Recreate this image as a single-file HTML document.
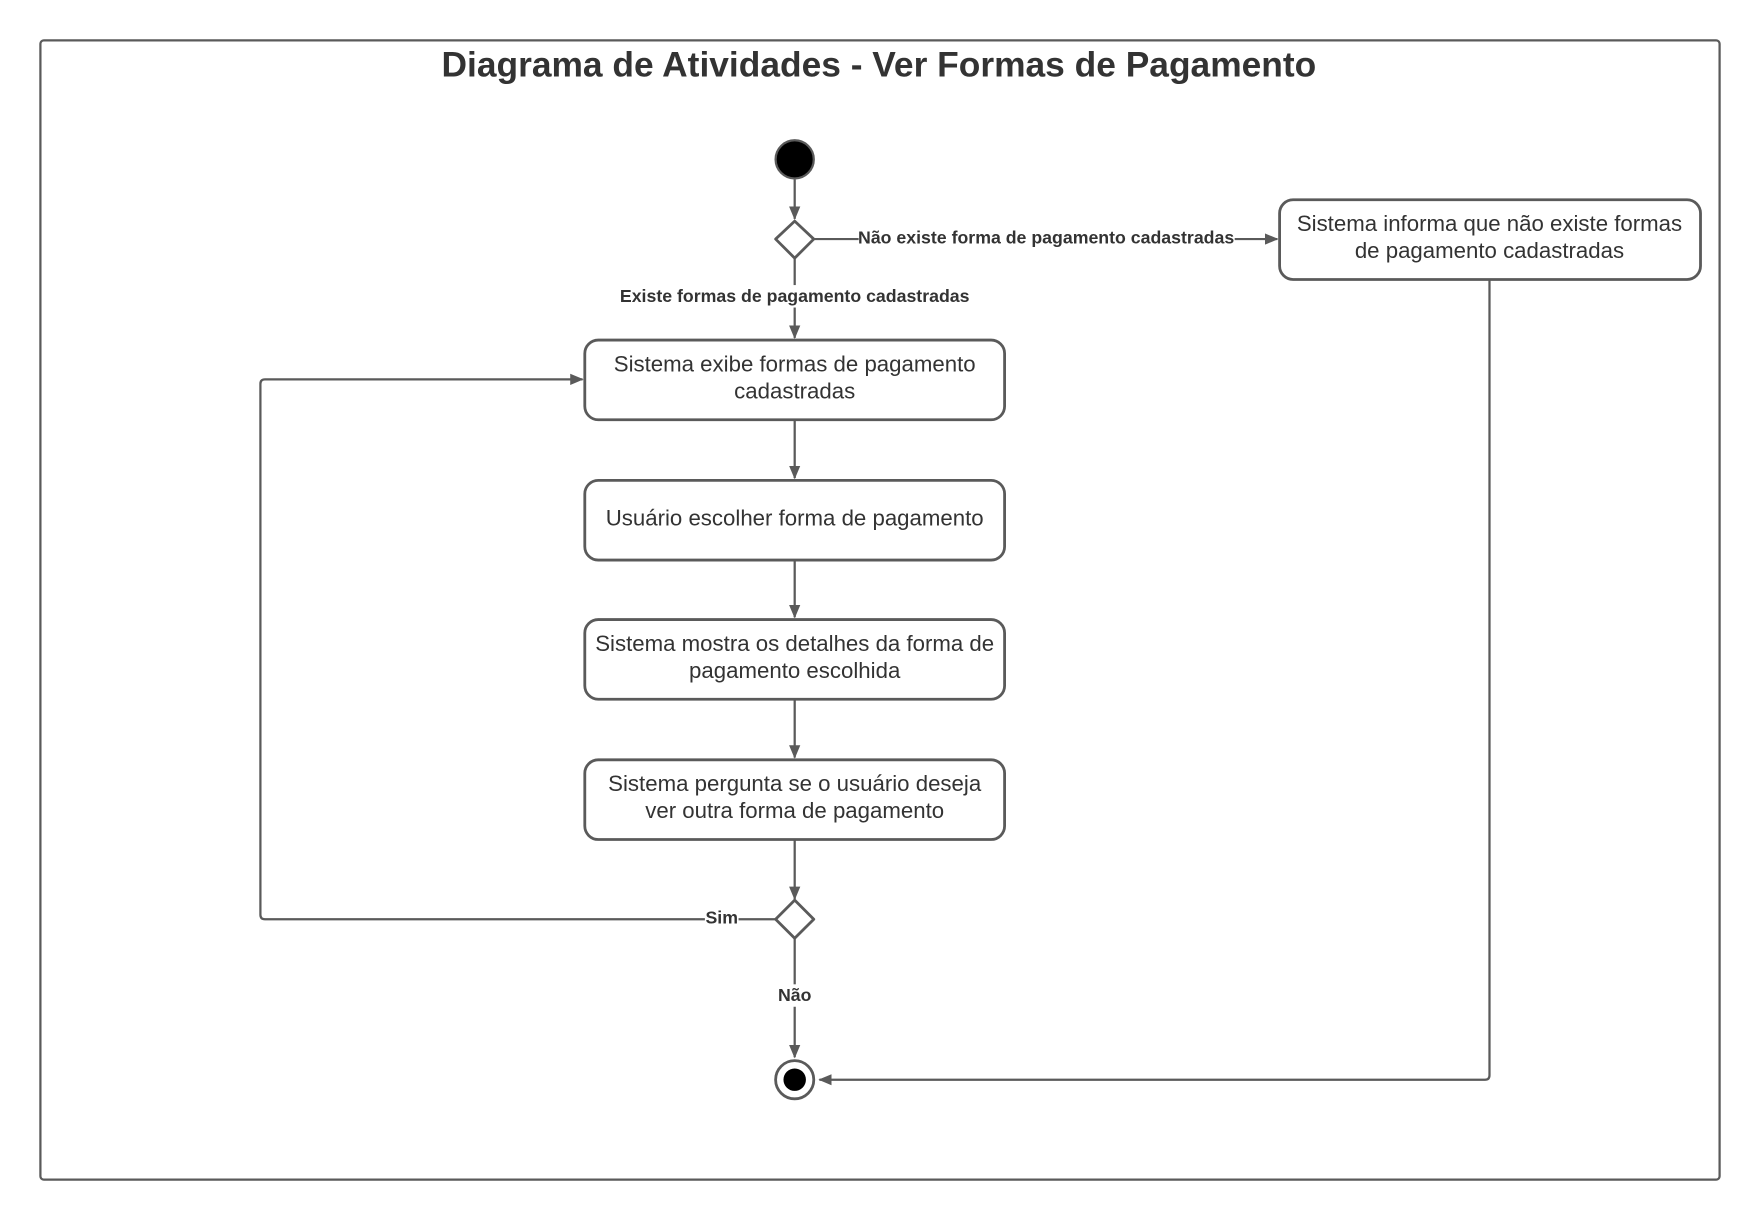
<!DOCTYPE html>
<html><head><meta charset="utf-8"><style>
html,body{margin:0;padding:0;background:#fff;}
svg{display:block;}
text{font-family:"Liberation Sans",sans-serif;fill:#333;}
</style></head><body>
<svg width="1760" height="1220" viewBox="0 0 1568 1087" preserveAspectRatio="none" xmlns="http://www.w3.org/2000/svg">
<defs>
<marker id="a" markerWidth="12" markerHeight="10" refX="11" refY="5" orient="auto" markerUnits="userSpaceOnUse">
<path d="M0,0 L12,5 L0,10 z" fill="#5a5a5a"/>
</marker>
</defs>
<rect x="36" y="36" width="1496" height="1015" rx="3" fill="#fff" stroke="#5a5a5a" stroke-width="2"/>
<text x="783" y="68" text-anchor="middle" font-size="31.5" font-weight="bold">Diagrama de Atividades - Ver Formas de Pagamento</text>

<g stroke="#5a5a5a" stroke-width="2" fill="none">
<line x1="708" y1="160" x2="708" y2="195" marker-end="url(#a)"/>
<line x1="725" y1="213" x2="1138" y2="213" marker-end="url(#a)"/>
<line x1="708" y1="230" x2="708" y2="301" marker-end="url(#a)"/>
<line x1="708" y1="374" x2="708" y2="426" marker-end="url(#a)"/>
<line x1="708" y1="499" x2="708" y2="550" marker-end="url(#a)"/>
<line x1="708" y1="623" x2="708" y2="675" marker-end="url(#a)"/>
<line x1="708" y1="748" x2="708" y2="801" marker-end="url(#a)"/>
<path d="M691,819 L236,819 Q232,819 232,815 L232,342 Q232,338 236,338 L519,338" marker-end="url(#a)"/>
<line x1="708" y1="836" x2="708" y2="942" marker-end="url(#a)"/>
<path d="M1327,249 L1327,958 Q1327,962 1323,962 L730,962" marker-end="url(#a)"/>
</g>

<circle cx="708" cy="142" r="17" fill="#000" stroke="#5a5a5a" stroke-width="2"/>
<path d="M708,197 L725,213 L708,230 L691,213 z" fill="#fff" stroke="#5a5a5a" stroke-width="2.5" stroke-linejoin="round"/>
<path d="M708,802 L725,819 L708,836 L691,819 z" fill="#fff" stroke="#5a5a5a" stroke-width="2.5" stroke-linejoin="round"/>
<circle cx="708" cy="962" r="17" fill="#fff" stroke="#5a5a5a" stroke-width="2.5"/>
<circle cx="708" cy="962" r="10" fill="#000"/>

<g fill="#fff" stroke="#5a5a5a" stroke-width="2.5">
<rect x="1140" y="178" width="375" height="71" rx="12"/>
<rect x="521" y="303" width="374" height="71" rx="12"/>
<rect x="521" y="428" width="374" height="71" rx="12"/>
<rect x="521" y="552" width="374" height="71" rx="12"/>
<rect x="521" y="677" width="374" height="71" rx="12"/>
</g>

<g font-size="19.8" text-anchor="middle">
<text x="1327" y="206">Sistema informa que não existe formas</text>
<text x="1327" y="230">de pagamento cadastradas</text>
<text x="708" y="331">Sistema exibe formas de pagamento</text>
<text x="708" y="355">cadastradas</text>
<text x="708" y="468">Usuário escolher forma de pagamento</text>
<text x="708" y="580">Sistema mostra os detalhes da forma de</text>
<text x="708" y="604">pagamento escolhida</text>
<text x="708" y="705">Sistema pergunta se o usuário deseja</text>
<text x="708" y="729">ver outra forma de pagamento</text>
</g>

<g font-size="15.8" font-weight="bold" text-anchor="middle">
<rect x="765" y="202" width="335" height="20" fill="#fff"/>
<text x="932" y="217">Não existe forma de pagamento cadastradas</text>
<rect x="552" y="254" width="312" height="20" fill="#fff"/>
<text x="708" y="269">Existe formas de pagamento cadastradas</text>
<rect x="628" y="808" width="30" height="20" fill="#fff"/>
<text x="643" y="823">Sim</text>
<rect x="693" y="877" width="30" height="20" fill="#fff"/>
<text x="708" y="892">Não</text>
</g>
</svg>
</body></html>
